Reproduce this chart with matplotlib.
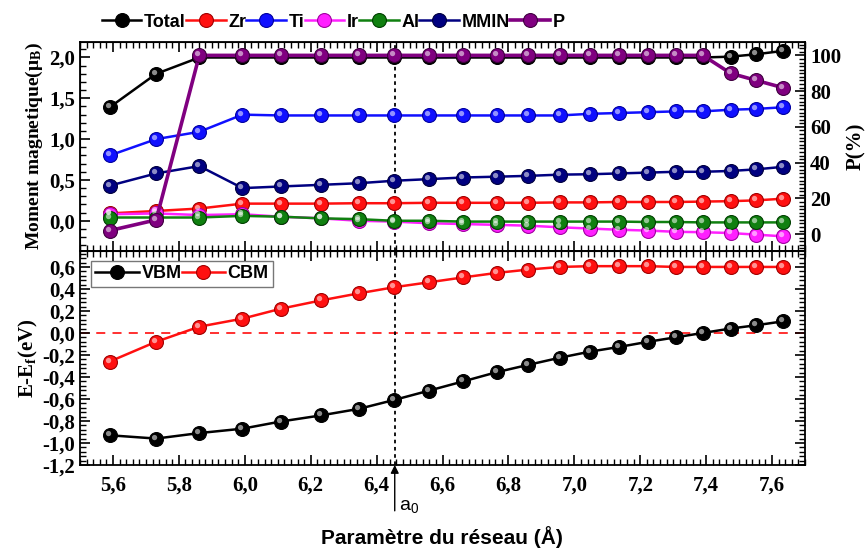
import matplotlib
matplotlib.use("Agg")
import matplotlib.pyplot as plt
from matplotlib.markers import MarkerStyle
from matplotlib.transforms import Affine2D
from matplotlib.ticker import MultipleLocator, FuncFormatter

# Lattice parameter (Å)
a = [5.590, 5.731, 5.862, 5.993, 6.109, 6.230, 6.346, 6.452, 6.558, 6.663,
     6.765, 6.860, 6.956, 7.047, 7.136, 7.224, 7.307, 7.390, 7.474, 7.552, 7.632]
a0 = 6.455

# Magnetic moments (μB)
total = [1.39, 1.80, 2.00, 2.00, 2.00, 2.00, 2.00, 2.00, 2.00, 2.00, 2.00,
         2.00, 2.00, 2.00, 2.00, 2.00, 2.00, 2.00, 2.01, 2.04, 2.08]
zr = [0.09, 0.12, 0.15, 0.21, 0.21, 0.21, 0.215, 0.215, 0.22, 0.22, 0.22,
      0.22, 0.225, 0.225, 0.23, 0.23, 0.23, 0.235, 0.24, 0.25, 0.27]
ti = [0.80, 1.00, 1.09, 1.30, 1.29, 1.29, 1.29, 1.29, 1.29, 1.29, 1.29,
      1.29, 1.29, 1.31, 1.32, 1.33, 1.34, 1.34, 1.36, 1.37, 1.39]
ir = [0.08, 0.09, 0.07, 0.08, 0.05, 0.03, 0.00, -0.01, -0.03, -0.04, -0.05,
      -0.06, -0.08, -0.095, -0.11, -0.12, -0.135, -0.14, -0.15, -0.17, -0.19]
al = [0.04, 0.04, 0.04, 0.06, 0.05, 0.03, 0.02, 0.00, 0.00, -0.01, -0.01,
      -0.01, -0.01, -0.01, -0.01, -0.015, -0.015, -0.02, -0.02, -0.02, -0.02]
mmin = [0.43, 0.58, 0.67, 0.40, 0.42, 0.44, 0.46, 0.49, 0.51, 0.53, 0.54,
        0.55, 0.565, 0.57, 0.58, 0.59, 0.60, 0.60, 0.61, 0.63, 0.66]
# Spin polarisation (%)
pol = [2, 8, 100, 100, 100, 100, 100, 100, 100, 100, 100,
       100, 100, 100, 100, 100, 100, 100, 90, 86, 82]

# Band edges (eV)
vbm = [-0.93, -0.96, -0.91, -0.87, -0.805, -0.75, -0.69, -0.61, -0.525, -0.44,
       -0.356, -0.29, -0.225, -0.17, -0.127, -0.08, -0.04, 0.00, 0.04, 0.07, 0.105]
cbm = [-0.26, -0.08, 0.057, 0.13, 0.22, 0.295, 0.36, 0.415, 0.46, 0.505,
       0.546, 0.576, 0.60, 0.607, 0.607, 0.607, 0.60, 0.60, 0.60, 0.60, 0.60]

serif = "Liberation Serif"
sans = "Liberation Sans"
plt.rcParams["font.family"] = serif
plt.rcParams["font.weight"] = "bold"

fig = plt.figure(figsize=(8.66, 5.48), dpi=100)
ax1 = fig.add_axes([0.0924, 0.5420, 0.8372, 0.3814])
ax2 = fig.add_axes([0.0924, 0.1515, 0.8372, 0.3905])
axr = ax1.twinx()

hl_marker = MarkerStyle("o", transform=Affine2D().scale(0.38).translate(-0.14, 0.14))


def ball_line(ax, x, y, color, edge, label=None, lw=1.8, z=2):
    line, = ax.plot(x, y, "-", color=color, lw=lw, marker="o", ms=10,
                    mfc=color, mec=edge, mew=0.8, label=label, zorder=z)
    ax.plot(x, y, ls="none", marker=hl_marker, ms=10, mfc="white",
            mec="none", alpha=0.55, zorder=z + 0.1)
    return line


series = [
    ("Total", total, "#000000", "#000000"),
    ("Zr", zr, "#ff1010", "#a00000"),
    ("Ti", ti, "#1010ff", "#0000a0"),
    ("Ir", ir, "#ff20ff", "#a000a0"),
    ("Al", al, "#108010", "#004000"),
    ("MMIN", mmin, "#000080", "#000040"),
]
handles = []
for name, vals, col, edge in series:
    handles.append(ball_line(ax1, a, vals, col, edge, name))
hp = ball_line(axr, a, pol, "#800080", "#400040", "P", lw=2.6, z=3)
handles.append(hp)

ax1.set_xlim(5.5, 7.7)
ax1.set_ylim(-0.37, 2.19)
axr.set_ylim(-9.4, 107.5)
ax1.axvline(a0, color="black", ls=(0, (2, 2)), lw=1.3, zorder=1)

comma = FuncFormatter(lambda v, p: f"{v:.1f}".replace(".", ","))
ax1.yaxis.set_major_locator(MultipleLocator(0.5))
ax1.yaxis.set_minor_locator(MultipleLocator(0.1))
ax1.yaxis.set_major_formatter(comma)
axr.yaxis.set_major_locator(MultipleLocator(20))
axr.yaxis.set_minor_locator(MultipleLocator(2))

for ax in (ax1, ax2):
    ax.xaxis.set_major_locator(MultipleLocator(0.2))
    ax.xaxis.set_minor_locator(MultipleLocator(0.02))
    ax.xaxis.set_major_formatter(comma)
    for sp in ax.spines.values():
        sp.set_linewidth(1.3)

ax1.tick_params(axis="x", which="both", direction="in", top=True, bottom=True,
                labelbottom=False)
ax1.tick_params(axis="y", which="both", direction="in", left=True, right=False)
ax1.tick_params(which="major", length=7, width=1.2)
ax1.tick_params(which="minor", length=4, width=1.0)
ax1.tick_params(axis="y", labelsize=15)
axr.tick_params(axis="y", which="both", direction="in", labelsize=15)
axr.tick_params(which="major", length=7, width=1.2)
axr.tick_params(which="minor", length=4, width=1.0)

ax1.set_ylabel(r"Moment magnetique$\mathregular{(\mu_B)}$", fontsize=14,
               fontweight="bold", labelpad=3)
axr.set_ylabel("P(%)", fontsize=15, fontweight="bold", labelpad=4)

leg1 = ax1.legend(handles=handles, loc="lower left", bbox_to_anchor=(0.02, 1.02),
                  ncol=7, frameon=False, handlelength=2.2, handletextpad=0.15,
                  columnspacing=0.0, borderaxespad=0.0,
                  prop={"family": sans, "weight": "bold", "size": 13})

# Lower panel: band edges
hv = ball_line(ax2, a, vbm, "#000000", "#000000", "VBM")
hc = ball_line(ax2, a, cbm, "#ff1010", "#a00000", "CBM")
ax2.axhline(0.0, color="#ff2020", ls=(0, (5, 4)), lw=1.3, zorder=1)
ax2.axvline(a0, color="black", ls=(0, (2, 2)), lw=1.3, zorder=1)
ax2.set_xlim(5.5, 7.7)
ax2.set_ylim(-1.2, 0.745)
ax2.yaxis.set_major_locator(MultipleLocator(0.2))
ax2.yaxis.set_minor_locator(MultipleLocator(0.04))
ax2.yaxis.set_major_formatter(comma)
ax2.tick_params(which="both", direction="in", top=True, right=True, labelsize=15)
ax2.tick_params(which="major", length=7, width=1.2)
ax2.tick_params(which="minor", length=4, width=1.0)
ax2.tick_params(axis="x", pad=8)
ax2.set_ylabel(r"E-E$\mathregular{_f}$(eV)", fontsize=15, fontweight="bold",
               labelpad=2)
leg2 = ax2.legend(handles=[hv, hc], loc="upper left", bbox_to_anchor=(0.015, 0.955),
                  ncol=2, frameon=True, fancybox=False, handlelength=2.4,
                  handletextpad=0.15, columnspacing=0.0, borderaxespad=0.0,
                  borderpad=0.25,
                  prop={"family": sans, "weight": "bold", "size": 13})
leg2.get_frame().set_edgecolor("#555555")
leg2.get_frame().set_linewidth(1.0)

# Equilibrium lattice parameter marker
ax2.annotate("", xy=(a0, 0), xycoords=("data", "axes fraction"),
             xytext=(0, -33), textcoords="offset points",
             arrowprops=dict(arrowstyle="-|>", color="black", lw=1.0,
                             mutation_scale=12, shrinkA=0, shrinkB=0))
ax2.annotate(r"a$\mathregular{_0}$", xy=(a0, 0), xycoords=("data", "axes fraction"),
             xytext=(3, -30), textcoords="offset points", ha="left", va="center",
             fontsize=14, family=sans, fontweight="normal")

fig.text(0.51, 0.020, "Paramètre du réseau (Å)", ha="center", va="center",
         family=sans, fontweight="bold", fontsize=15)

fig.savefig("out.png", dpi=100)
